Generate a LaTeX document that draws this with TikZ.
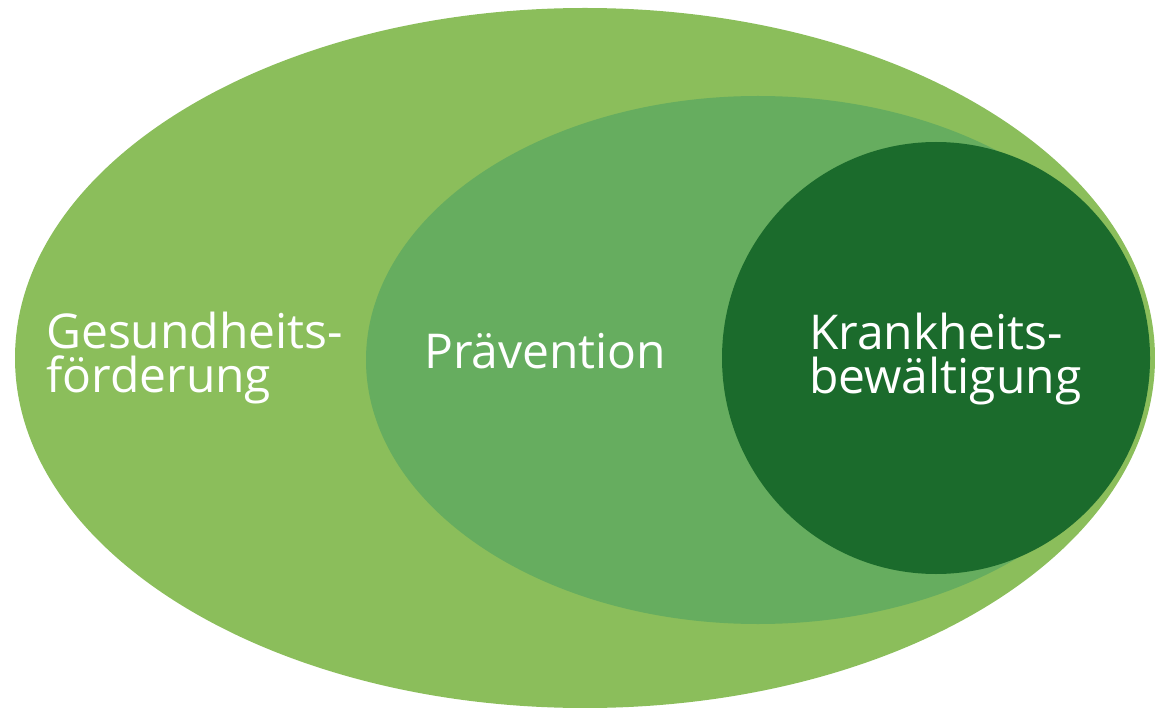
\documentclass[tikz,border=0pt]{standalone}
\usepackage{fontspec}
\setmainfont{Open Sans}
\usepackage{tikz}

\definecolor{outergreen}{HTML}{8BBE5B}
\definecolor{midgreen}{HTML}{66AD5F}
\definecolor{darkgreen}{HTML}{1B6B2C}

\begin{document}
\begin{tikzpicture}[x=1pt,y=1pt,
    lbl/.style={text=white,inner sep=0pt,anchor=base west,align=left,
      font=\fontsize{48}{44}\selectfont}]
    \useasboundingbox (0,0) rectangle (1155,-708);
    \fill[outergreen] (585,-358) ellipse [x radius=570, y radius=350];
    \fill[midgreen] (758,-360) ellipse [x radius=392, y radius=264];
    \fill[darkgreen] (936,-358) ellipse [x radius=214, y radius=216];

    % base anchor sits on the last line
    \node[lbl] (gf) at (46,-392) {Gesundheits-\\förderung};
    \node[lbl] (pr) at (424,-368) {Prävention};
    \node[lbl] (kb) at (809,-393) {Krankheits-\\bewältigung};
\end{tikzpicture}
\end{document}
